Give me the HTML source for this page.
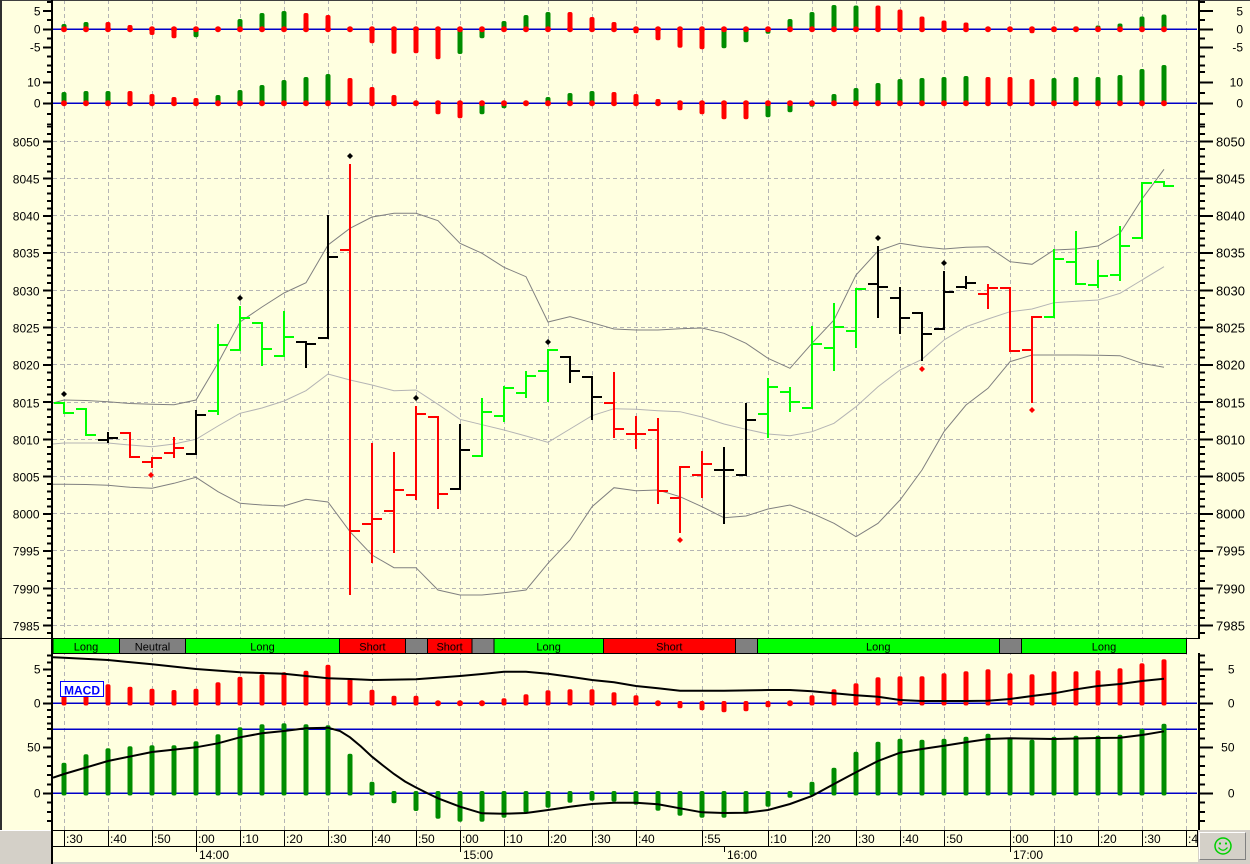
<!DOCTYPE html>
<html><head><meta charset="utf-8"><style>
html,body{margin:0;padding:0;background:#ffffe0;overflow:hidden;}
svg{display:block;}
text{font-family:"Liberation Sans",Arial,sans-serif;}
</style></head><body>
<svg xmlns="http://www.w3.org/2000/svg" width="1250" height="864" viewBox="0 0 1250 864">
<rect x="0" y="0" width="1250" height="864" fill="#ffffe0"/>

<!-- vertical dashed grid -->
<path d="M64.5 0V830M108.5 0V830M152.5 0V830M196.5 0V830M240.5 0V830M284.5 0V830M328.5 0V830M372.5 0V830M416.5 0V830M460.5 0V830M504.5 0V830M548.5 0V830M592.5 0V830M636.5 0V830M702.5 0V830M768.5 0V830M812.5 0V830M856.5 0V830M900.5 0V830M944.5 0V830M1010.5 0V830M1054.5 0V830M1098.5 0V830M1142.5 0V830M1186.5 0V830" stroke="#b4b4b4" stroke-width="1" stroke-dasharray="4 3" fill="none" shape-rendering="crispEdges"/>
<!-- horizontal dashed grid (price) -->
<path d="M53 141.5H1197M53 178.5H1197M53 215.5H1197M53 252.5H1197M53 290.5H1197M53 327.5H1197M53 364.5H1197M53 402.5H1197M53 439.5H1197M53 476.5H1197M53 513.5H1197M53 550.5H1197M53 588.5H1197M53 625.5H1197" stroke="#b4b4b4" stroke-width="1" stroke-dasharray="4 3" fill="none" shape-rendering="crispEdges"/>

<!-- blue zero lines -->
<g stroke="#0000c8" stroke-width="1.6" shape-rendering="crispEdges">
<line x1="53" y1="29.3" x2="1197" y2="29.3"/>
<line x1="53" y1="103.3" x2="1197" y2="103.3"/>
<line x1="53" y1="703.3" x2="1197" y2="703.3"/>
<line x1="53" y1="729.3" x2="1197" y2="729.3"/>
<line x1="53" y1="793.3" x2="1197" y2="793.3"/>
</g>

<!-- top panel upper histogram -->
<g fill="#008c00">
<rect x="61.5" y="24" width="5" height="5.3" rx="2"/>
<rect x="83.5" y="22" width="5" height="7.3" rx="2"/>
<rect x="193.5" y="29" width="5" height="8.3" rx="2"/>
<rect x="237.5" y="19" width="5" height="10.3" rx="2"/>
<rect x="259.5" y="13" width="5" height="16.3" rx="2"/>
<rect x="281.5" y="11" width="5" height="18.3" rx="2"/>
<rect x="457.5" y="29" width="5" height="25" rx="2"/>
<rect x="479.5" y="29" width="5" height="9.3" rx="2"/>
<rect x="501.5" y="21" width="5" height="8.3" rx="2"/>
<rect x="523.5" y="15" width="5" height="14.3" rx="2"/>
<rect x="545.5" y="12" width="5" height="17.3" rx="2"/>
<rect x="721.5" y="29" width="5" height="19.3" rx="2"/>
<rect x="743.5" y="29" width="5" height="13.3" rx="2"/>
<rect x="765.5" y="29" width="5" height="4.7" rx="2"/>
<rect x="787.5" y="19" width="5" height="10.3" rx="2"/>
<rect x="809.5" y="12" width="5" height="17.3" rx="2"/>
<rect x="831.5" y="5" width="5" height="24.3" rx="2"/>
<rect x="853.5" y="5.5" width="5" height="23.8" rx="2"/>
<rect x="1051.5" y="29" width="5" height="3" rx="2"/>
<rect x="1073.5" y="26.5" width="5" height="2.8" rx="2"/>
<rect x="1095.5" y="25.5" width="5" height="3.8" rx="2"/>
<rect x="1117.5" y="23.5" width="5" height="5.8" rx="2"/>
<rect x="1139.5" y="16.5" width="5" height="12.8" rx="2"/>
<rect x="1161.5" y="14.5" width="5" height="14.8" rx="2"/>
</g>
<g fill="#ff0000">
<rect x="105.5" y="22" width="5" height="7.3" rx="2"/>
<rect x="127.5" y="25" width="5" height="4.3" rx="2"/>
<rect x="149.5" y="29" width="5" height="6" rx="2"/>
<rect x="171.5" y="29" width="5" height="9.3" rx="2"/>
<rect x="303.5" y="13" width="5" height="16.3" rx="2"/>
<rect x="325.5" y="15" width="5" height="14.3" rx="2"/>
<rect x="369.5" y="29" width="5" height="14.3" rx="2"/>
<rect x="391.5" y="29" width="5" height="24.7" rx="2"/>
<rect x="413.5" y="29" width="5" height="24.3" rx="2"/>
<rect x="435.5" y="29" width="5" height="30.3" rx="2"/>
<rect x="567.5" y="12" width="5" height="17.3" rx="2"/>
<rect x="589.5" y="17" width="5" height="12.3" rx="2"/>
<rect x="611.5" y="22" width="5" height="7.3" rx="2"/>
<rect x="633.5" y="29" width="5" height="4.3" rx="2"/>
<rect x="655.5" y="29" width="5" height="11.3" rx="2"/>
<rect x="677.5" y="29" width="5" height="18.7" rx="2"/>
<rect x="699.5" y="29" width="5" height="20.3" rx="2"/>
<rect x="875.5" y="5.5" width="5" height="23.8" rx="2"/>
<rect x="897.5" y="9.5" width="5" height="19.8" rx="2"/>
<rect x="919.5" y="16.5" width="5" height="12.8" rx="2"/>
<rect x="941.5" y="20.5" width="5" height="8.8" rx="2"/>
<rect x="963.5" y="22.5" width="5" height="6.8" rx="2"/>
<rect x="1007.5" y="29" width="5" height="2.5" rx="2"/>
<rect x="1029.5" y="29" width="5" height="4.3" rx="2"/>
</g>
<!-- top panel lower histogram -->
<g fill="#008c00">
<rect x="61.5" y="92" width="5" height="11.3" rx="2"/>
<rect x="83.5" y="91" width="5" height="12.3" rx="2"/>
<rect x="105.5" y="91" width="5" height="12.3" rx="2"/>
<rect x="215.5" y="95" width="5" height="8.3" rx="2"/>
<rect x="237.5" y="90" width="5" height="13.3" rx="2"/>
<rect x="259.5" y="85" width="5" height="18.3" rx="2"/>
<rect x="281.5" y="80" width="5" height="23.3" rx="2"/>
<rect x="303.5" y="77" width="5" height="26.3" rx="2"/>
<rect x="325.5" y="74" width="5" height="29.3" rx="2"/>
<rect x="479.5" y="103" width="5" height="11.3" rx="2"/>
<rect x="501.5" y="103" width="5" height="5.3" rx="2"/>
<rect x="545.5" y="97" width="5" height="6.3" rx="2"/>
<rect x="567.5" y="93" width="5" height="10.3" rx="2"/>
<rect x="589.5" y="91" width="5" height="12.3" rx="2"/>
<rect x="765.5" y="103" width="5" height="14.3" rx="2"/>
<rect x="787.5" y="103" width="5" height="9.3" rx="2"/>
<rect x="809.5" y="103" width="5" height="3.7" rx="2"/>
<rect x="831.5" y="94" width="5" height="9.3" rx="2"/>
<rect x="853.5" y="88" width="5" height="15.3" rx="2"/>
<rect x="875.5" y="83" width="5" height="20.3" rx="2"/>
<rect x="897.5" y="79" width="5" height="24.3" rx="2"/>
<rect x="919.5" y="78" width="5" height="25.3" rx="2"/>
<rect x="941.5" y="77" width="5" height="26.3" rx="2"/>
<rect x="963.5" y="76" width="5" height="27.3" rx="2"/>
<rect x="1051.5" y="78" width="5" height="25.3" rx="2"/>
<rect x="1073.5" y="77" width="5" height="26.3" rx="2"/>
<rect x="1095.5" y="77" width="5" height="26.3" rx="2"/>
<rect x="1117.5" y="75" width="5" height="28.3" rx="2"/>
<rect x="1139.5" y="69" width="5" height="34.3" rx="2"/>
<rect x="1161.5" y="65" width="5" height="38.3" rx="2"/>
</g>
<g fill="#ff0000">
<rect x="127.5" y="91" width="5" height="12.3" rx="2"/>
<rect x="149.5" y="94" width="5" height="9.3" rx="2"/>
<rect x="171.5" y="97" width="5" height="6.3" rx="2"/>
<rect x="193.5" y="98" width="5" height="5.3" rx="2"/>
<rect x="347.5" y="78" width="5" height="25.3" rx="2"/>
<rect x="369.5" y="87" width="5" height="16.3" rx="2"/>
<rect x="391.5" y="95" width="5" height="8.3" rx="2"/>
<rect x="435.5" y="103" width="5" height="11.3" rx="2"/>
<rect x="457.5" y="103" width="5" height="15.3" rx="2"/>
<rect x="611.5" y="92" width="5" height="11.3" rx="2"/>
<rect x="633.5" y="94" width="5" height="9.3" rx="2"/>
<rect x="655.5" y="99" width="5" height="4.3" rx="2"/>
<rect x="677.5" y="103" width="5" height="7.3" rx="2"/>
<rect x="699.5" y="103" width="5" height="11.3" rx="2"/>
<rect x="721.5" y="103" width="5" height="16.3" rx="2"/>
<rect x="743.5" y="103" width="5" height="16.3" rx="2"/>
<rect x="985.5" y="77" width="5" height="26.3" rx="2"/>
<rect x="1007.5" y="77" width="5" height="26.3" rx="2"/>
<rect x="1029.5" y="79" width="5" height="24.3" rx="2"/>
</g>
<!-- red zero dots -->
<g fill="#ff0000">
<circle cx="64" cy="29.3" r="3"/><circle cx="86" cy="29.3" r="3"/><circle cx="108" cy="29.3" r="3"/><circle cx="130" cy="29.3" r="3"/><circle cx="152" cy="29.3" r="3"/><circle cx="174" cy="29.3" r="3"/><circle cx="196" cy="29.3" r="3"/><circle cx="218" cy="29.3" r="3"/><circle cx="240" cy="29.3" r="3"/><circle cx="262" cy="29.3" r="3"/><circle cx="284" cy="29.3" r="3"/><circle cx="306" cy="29.3" r="3"/><circle cx="328" cy="29.3" r="3"/><circle cx="350" cy="29.3" r="3"/><circle cx="372" cy="29.3" r="3"/><circle cx="394" cy="29.3" r="3"/><circle cx="416" cy="29.3" r="3"/><circle cx="438" cy="29.3" r="3"/><circle cx="460" cy="29.3" r="3"/><circle cx="482" cy="29.3" r="3"/><circle cx="504" cy="29.3" r="3"/><circle cx="526" cy="29.3" r="3"/><circle cx="548" cy="29.3" r="3"/><circle cx="570" cy="29.3" r="3"/><circle cx="592" cy="29.3" r="3"/><circle cx="614" cy="29.3" r="3"/><circle cx="636" cy="29.3" r="3"/><circle cx="658" cy="29.3" r="3"/><circle cx="680" cy="29.3" r="3"/><circle cx="702" cy="29.3" r="3"/><circle cx="724" cy="29.3" r="3"/><circle cx="746" cy="29.3" r="3"/><circle cx="768" cy="29.3" r="3"/><circle cx="790" cy="29.3" r="3"/><circle cx="812" cy="29.3" r="3"/><circle cx="834" cy="29.3" r="3"/><circle cx="856" cy="29.3" r="3"/><circle cx="878" cy="29.3" r="3"/><circle cx="900" cy="29.3" r="3"/><circle cx="922" cy="29.3" r="3"/><circle cx="944" cy="29.3" r="3"/><circle cx="966" cy="29.3" r="3"/><circle cx="988" cy="29.3" r="3"/><circle cx="1010" cy="29.3" r="3"/><circle cx="1032" cy="29.3" r="3"/><circle cx="1054" cy="29.3" r="3"/><circle cx="1076" cy="29.3" r="3"/><circle cx="1098" cy="29.3" r="3"/><circle cx="1120" cy="29.3" r="3"/><circle cx="1142" cy="29.3" r="3"/><circle cx="1164" cy="29.3" r="3"/>
<circle cx="64" cy="103.3" r="3"/><circle cx="86" cy="103.3" r="3"/><circle cx="108" cy="103.3" r="3"/><circle cx="130" cy="103.3" r="3"/><circle cx="152" cy="103.3" r="3"/><circle cx="174" cy="103.3" r="3"/><circle cx="196" cy="103.3" r="3"/><circle cx="218" cy="103.3" r="3"/><circle cx="240" cy="103.3" r="3"/><circle cx="262" cy="103.3" r="3"/><circle cx="284" cy="103.3" r="3"/><circle cx="306" cy="103.3" r="3"/><circle cx="328" cy="103.3" r="3"/><circle cx="350" cy="103.3" r="3"/><circle cx="372" cy="103.3" r="3"/><circle cx="394" cy="103.3" r="3"/><circle cx="416" cy="103.3" r="3"/><circle cx="438" cy="103.3" r="3"/><circle cx="460" cy="103.3" r="3"/><circle cx="482" cy="103.3" r="3"/><circle cx="504" cy="103.3" r="3"/><circle cx="526" cy="103.3" r="3"/><circle cx="548" cy="103.3" r="3"/><circle cx="570" cy="103.3" r="3"/><circle cx="592" cy="103.3" r="3"/><circle cx="614" cy="103.3" r="3"/><circle cx="636" cy="103.3" r="3"/><circle cx="658" cy="103.3" r="3"/><circle cx="680" cy="103.3" r="3"/><circle cx="702" cy="103.3" r="3"/><circle cx="724" cy="103.3" r="3"/><circle cx="746" cy="103.3" r="3"/><circle cx="768" cy="103.3" r="3"/><circle cx="790" cy="103.3" r="3"/><circle cx="812" cy="103.3" r="3"/><circle cx="834" cy="103.3" r="3"/><circle cx="856" cy="103.3" r="3"/><circle cx="878" cy="103.3" r="3"/><circle cx="900" cy="103.3" r="3"/><circle cx="922" cy="103.3" r="3"/><circle cx="944" cy="103.3" r="3"/><circle cx="966" cy="103.3" r="3"/><circle cx="988" cy="103.3" r="3"/><circle cx="1010" cy="103.3" r="3"/><circle cx="1032" cy="103.3" r="3"/><circle cx="1054" cy="103.3" r="3"/><circle cx="1076" cy="103.3" r="3"/><circle cx="1098" cy="103.3" r="3"/><circle cx="1120" cy="103.3" r="3"/><circle cx="1142" cy="103.3" r="3"/><circle cx="1164" cy="103.3" r="3"/>
</g>

<!-- Bollinger bands -->
<polyline fill="none" stroke="#808080" stroke-width="1" points="53,403 64,400 86,400.5 108,401.7 130,403.5 152,404.3 174,404.7 196,400 218,363 240,322 262,307 284,293 306,282.7 328,245 350,228.3 372,217 394,213.3 416,213.3 438,220.7 460,243.3 482,253.3 504,267.3 526,276.7 548,322 570,316.7 592,322.7 614,329 636,330 658,330 680,328.7 702,328 724,333.3 746,343.3 768,358.3 790,368.3 812,343.3 834,320 856,275 878,251 900,243.3 922,246.7 944,249 966,247.3 988,246.7 1010,261.7 1032,264.3 1054,250 1076,249 1098,246 1120,233.3 1142,199 1164,169.3"/>
<polyline fill="none" stroke="#b4b4b4" stroke-width="1" points="53,444 64,443 86,443 108,443 130,445 152,446.7 174,444 196,439.3 218,426 240,413.3 262,408 284,401 306,390.7 328,374 350,380 372,385 394,390.7 416,390 438,404.3 460,419.3 482,424.7 504,430 526,436 548,442.3 570,429 592,415.7 614,408.7 636,409.3 658,410.7 680,411.7 702,417 724,424 746,429.3 768,434 790,435.7 812,431.7 834,423.3 856,406.7 878,386.7 900,370 922,359.3 944,340 966,326.7 988,319 1010,311.7 1032,309 1054,302.7 1076,301.3 1098,300 1120,293.3 1142,280 1164,266.7"/>
<polyline fill="none" stroke="#808080" stroke-width="1" points="53,484.3 64,484.3 86,484.5 108,485.3 130,487.3 152,488.3 174,483.3 196,477.3 218,491.7 240,503.3 262,505 284,506 306,499.3 328,502 350,531.7 372,555 394,567.7 416,567.7 438,590 460,595 482,595 504,592.7 526,590 548,563.3 570,540 592,506.7 614,487.7 636,490.7 658,490 680,496.7 702,506.7 724,517.7 746,516 768,509 790,505 812,513.3 834,523.3 856,536.7 878,523.3 900,500 922,470 944,431.7 966,405 988,388.3 1010,361.7 1032,355 1054,355 1076,355 1098,355.3 1120,355.7 1142,363.3 1164,367.3"/>

<!-- price bars -->
<g fill="none" stroke-width="2" stroke-linecap="square">
<path stroke="#00ff00" d="M55 403H64M64 403V413M64 413H73M77 409H86M86 409V435M86 435H95M209 411H218M218 325V414M218 345H227M231 350H240M240 307V350M240 318H249M253 323H262M262 323V365M262 349H271M275 356H284M284 312V356M284 337H293M473 456H482M482 399V456M482 412H491M495 416H504M504 387V421M504 388H513M517 393H526M526 372V397M526 376H535M539 371H548M548 350V401M548 350H557M759 414H768M768 379V437M768 387H777M781 392H790M790 388V411M790 402H799M803 408H812M812 327V408M812 344H821M825 348H834M834 304V370M834 327H843M847 331H856M856 289V347M856 289H865M1045 317H1054M1054 250V317M1054 259H1063M1067 262H1076M1076 232V284M1076 284H1085M1089 285H1098M1098 261V287M1098 276H1107M1111 275H1120M1120 227V280M1120 246H1129M1133 238H1142M1142 183V238M1142 183H1151M1155 182H1164M1164 182V186M1164 186H1173"/>
<path stroke="#000000" d="M99 440H108M108 433V442M108 438H117M187 454H196M196 411V454M196 415H205M297 342H306M306 342V367M306 344H315M319 338H328M328 216V338M328 257H337M451 489H460M460 425V489M460 450H469M561 357H570M570 357V382M570 371H579M583 377H592M592 377V419M592 397H601M715 470H724M724 448V523M724 470H733M737 475H746M746 404V475M746 420H755M869 284H878M878 247V317M878 287H887M891 298H900M900 288V333M900 318H909M913 313H922M922 313V360M922 334H931M935 329H944M944 272V329M944 292H953M957 287H966M966 277V288M966 283H975"/>
<path stroke="#ff0000" d="M121 433H130M130 433V457M130 457H139M143 462H152M152 458V467M152 458H161M165 453H174M174 438V457M174 448H183M341 250H350M350 165V594M350 531H359M363 524H372M372 444V562M372 519H381M385 511H394M394 453V552M394 490H403M407 495H416M416 407V499M416 414H425M429 417H438M438 417V508M438 494H447M605 403H614M614 373V437M614 429H623M627 434H636M636 417V448M636 434H645M649 430H658M658 419V503M658 491H667M671 498H680M680 467V532M680 467H689M693 475H702M702 452V497M702 464H711M979 294H988M988 285V308M988 288H997M1001 288H1010M1010 288V351M1010 351H1019M1023 350H1032M1032 317V402M1032 317H1041"/>
</g>
<!-- diamonds -->
<path fill="#000" d="M64 391l3 3-3 3-3-3zM240 295l3 3-3 3-3-3zM350 153l3 3-3 3-3-3zM416 395l3 3-3 3-3-3zM548 339l3 3-3 3-3-3zM878 235l3 3-3 3-3-3zM944 260l3 3-3 3-3-3z"/>
<path fill="#ff0000" d="M151 472l3 3-3 3-3-3zM680 537l3 3-3 3-3-3zM922 366l3 3-3 3-3-3zM1032 407l3 3-3 3-3-3z"/>

<!-- MACD upper red bars -->
<g fill="#ff0000">
<rect x="61.5" y="686" width="5" height="19.5" rx="2"/>
<rect x="83.5" y="686" width="5" height="19.5" rx="2"/>
<rect x="105.5" y="684.3" width="5" height="21.2" rx="2"/>
<rect x="127.5" y="686.7" width="5" height="18.8" rx="2"/>
<rect x="149.5" y="688.7" width="5" height="16.8" rx="2"/>
<rect x="171.5" y="690" width="5" height="15.5" rx="2"/>
<rect x="193.5" y="688.7" width="5" height="16.8" rx="2"/>
<rect x="215.5" y="682.3" width="5" height="23.2" rx="2"/>
<rect x="237.5" y="676.7" width="5" height="28.8" rx="2"/>
<rect x="259.5" y="674.3" width="5" height="31.2" rx="2"/>
<rect x="281.5" y="672.3" width="5" height="33.2" rx="2"/>
<rect x="303.5" y="670.7" width="5" height="34.8" rx="2"/>
<rect x="325.5" y="664.7" width="5" height="40.8" rx="2"/>
<rect x="347.5" y="678.7" width="5" height="26.8" rx="2"/>
<rect x="369.5" y="689.7" width="5" height="15.8" rx="2"/>
<rect x="391.5" y="695.7" width="5" height="9.8" rx="2"/>
<rect x="413.5" y="695.7" width="5" height="9.8" rx="2"/>
<circle cx="438" cy="703.3" r="3"/><circle cx="460" cy="703.3" r="3"/><circle cx="482" cy="703.3" r="3"/>
<rect x="501.5" y="698.3" width="5" height="7.2" rx="2"/>
<rect x="523.5" y="694.3" width="5" height="11.2" rx="2"/>
<rect x="545.5" y="690.3" width="5" height="15.2" rx="2"/>
<rect x="567.5" y="689.3" width="5" height="16.2" rx="2"/>
<rect x="589.5" y="689.3" width="5" height="16.2" rx="2"/>
<rect x="611.5" y="692.3" width="5" height="13.2" rx="2"/>
<rect x="633.5" y="695.3" width="5" height="10.2" rx="2"/>
<circle cx="658" cy="703.3" r="3"/>
<rect x="677.5" y="701" width="5" height="7.3" rx="2"/>
<rect x="699.5" y="701" width="5" height="9.3" rx="2"/>
<rect x="721.5" y="701" width="5" height="11.3" rx="2"/>
<rect x="743.5" y="701" width="5" height="10.3" rx="2"/>
<rect x="765.5" y="701" width="5" height="6.3" rx="2"/>
<circle cx="790" cy="703.3" r="3"/>
<rect x="809.5" y="695.3" width="5" height="10.2" rx="2"/>
<rect x="831.5" y="689.3" width="5" height="16.2" rx="2"/>
<rect x="853.5" y="683.3" width="5" height="22.2" rx="2"/>
<rect x="875.5" y="677.3" width="5" height="28.2" rx="2"/>
<rect x="897.5" y="676.3" width="5" height="29.2" rx="2"/>
<rect x="919.5" y="676.3" width="5" height="29.2" rx="2"/>
<rect x="941.5" y="673.3" width="5" height="32.2" rx="2"/>
<rect x="963.5" y="671.3" width="5" height="34.2" rx="2"/>
<rect x="985.5" y="669.3" width="5" height="36.2" rx="2"/>
<rect x="1007.5" y="673.3" width="5" height="32.2" rx="2"/>
<rect x="1029.5" y="674.3" width="5" height="31.2" rx="2"/>
<rect x="1051.5" y="671.3" width="5" height="34.2" rx="2"/>
<rect x="1073.5" y="671.3" width="5" height="34.2" rx="2"/>
<rect x="1095.5" y="670.3" width="5" height="35.2" rx="2"/>
<rect x="1117.5" y="668.3" width="5" height="37.2" rx="2"/>
<rect x="1139.5" y="663.3" width="5" height="42.2" rx="2"/>
<rect x="1161.5" y="659.3" width="5" height="46.2" rx="2"/>
</g>
<!-- MACD lower green bars -->
<g fill="#008c00">
<rect x="61.5" y="762.7" width="5" height="32.8" rx="2"/>
<rect x="83.5" y="754.3" width="5" height="41.2" rx="2"/>
<rect x="105.5" y="748.3" width="5" height="47.2" rx="2"/>
<rect x="127.5" y="746.3" width="5" height="49.2" rx="2"/>
<rect x="149.5" y="745.3" width="5" height="50.2" rx="2"/>
<rect x="171.5" y="745.3" width="5" height="50.2" rx="2"/>
<rect x="193.5" y="741.3" width="5" height="54.2" rx="2"/>
<rect x="215.5" y="734.3" width="5" height="61.2" rx="2"/>
<rect x="237.5" y="727.3" width="5" height="68.2" rx="2"/>
<rect x="259.5" y="724.3" width="5" height="71.2" rx="2"/>
<rect x="281.5" y="723.3" width="5" height="72.2" rx="2"/>
<rect x="303.5" y="724.3" width="5" height="71.2" rx="2"/>
<rect x="325.5" y="725.3" width="5" height="70.2" rx="2"/>
<rect x="347.5" y="753.7" width="5" height="41.8" rx="2"/>
<rect x="369.5" y="781.7" width="5" height="13.8" rx="2"/>
<rect x="391.5" y="791" width="5" height="12.3" rx="2"/>
<rect x="413.5" y="791" width="5" height="20" rx="2"/>
<rect x="435.5" y="791" width="5" height="27.7" rx="2"/>
<rect x="457.5" y="791" width="5" height="30.7" rx="2"/>
<rect x="479.5" y="791" width="5" height="30.7" rx="2"/>
<rect x="501.5" y="791" width="5" height="26.7" rx="2"/>
<rect x="523.5" y="791" width="5" height="21.7" rx="2"/>
<rect x="545.5" y="791" width="5" height="16.7" rx="2"/>
<rect x="567.5" y="791" width="5" height="11.7" rx="2"/>
<rect x="589.5" y="791" width="5" height="9.7" rx="2"/>
<rect x="611.5" y="791" width="5" height="10.7" rx="2"/>
<rect x="633.5" y="791" width="5" height="13.7" rx="2"/>
<rect x="655.5" y="791" width="5" height="19.7" rx="2"/>
<rect x="677.5" y="791" width="5" height="24.7" rx="2"/>
<rect x="699.5" y="791" width="5" height="26.7" rx="2"/>
<rect x="721.5" y="791" width="5" height="26.7" rx="2"/>
<rect x="743.5" y="791" width="5" height="22.7" rx="2"/>
<rect x="765.5" y="791" width="5" height="15.7" rx="2"/>
<rect x="787.5" y="791" width="5" height="6.7" rx="2"/>
<rect x="809.5" y="781.7" width="5" height="13.8" rx="2"/>
<rect x="831.5" y="767.7" width="5" height="27.8" rx="2"/>
<rect x="853.5" y="751.7" width="5" height="43.8" rx="2"/>
<rect x="875.5" y="741.7" width="5" height="53.8" rx="2"/>
<rect x="897.5" y="738.7" width="5" height="56.8" rx="2"/>
<rect x="919.5" y="739.7" width="5" height="55.8" rx="2"/>
<rect x="941.5" y="738.7" width="5" height="56.8" rx="2"/>
<rect x="963.5" y="736.7" width="5" height="58.8" rx="2"/>
<rect x="985.5" y="733.7" width="5" height="61.8" rx="2"/>
<rect x="1007.5" y="737.7" width="5" height="57.8" rx="2"/>
<rect x="1029.5" y="739.7" width="5" height="55.8" rx="2"/>
<rect x="1051.5" y="736.7" width="5" height="58.8" rx="2"/>
<rect x="1073.5" y="735.7" width="5" height="59.8" rx="2"/>
<rect x="1095.5" y="735.7" width="5" height="59.8" rx="2"/>
<rect x="1117.5" y="734.7" width="5" height="60.8" rx="2"/>
<rect x="1139.5" y="728.7" width="5" height="66.8" rx="2"/>
<rect x="1161.5" y="723.7" width="5" height="71.8" rx="2"/>
</g>
<!-- MACD black lines -->
<polyline fill="none" stroke="#000" stroke-width="2" points="53,657.3 64,657.7 108,660 152,664.3 196,669 240,672.3 284,673.7 328,678.3 350,679 372,680 416,679.3 460,676 482,674 504,671.7 526,671.7 548,673.7 570,676.7 592,680 614,682.3 636,686 658,688.3 680,690.7 724,690.7 768,690 790,690 812,691.3 834,693.3 856,695.3 878,696.7 900,700 922,701 966,701 988,700.7 1010,699 1032,696 1054,693.3 1076,689.3 1098,686 1120,684 1142,681 1164,678.7"/>
<polyline fill="none" stroke="#000" stroke-width="2" points="53,777.7 64,774 108,761 152,752 196,747.3 218,743.3 240,737.3 262,733.3 284,731 306,728.3 328,727.7 340,731 350,737.3 361,746.5 372,756.7 383,765.5 394,774 405,781.5 416,787.5 427,793 438,798.3 460,806.7 482,813.3 504,813.7 526,813 548,810 570,806.7 592,804 614,802.7 636,802.7 658,804.3 680,808.3 702,812.3 724,813 746,812.7 768,810 790,804 812,796 834,784 856,772.3 878,761 900,752.7 922,749 944,745.7 966,742.3 988,739 1010,738.3 1054,739 1098,738 1120,737.7 1142,735 1164,731.3"/>

<!-- MACD label -->
<rect x="60.5" y="681.5" width="43" height="15" fill="#ffffff" stroke="#0000ff" stroke-width="1"/>
<text x="82" y="694.3" font-size="12" font-weight="bold" fill="#0000ff" text-anchor="middle">MACD</text>

<!-- status bar -->
<g shape-rendering="crispEdges" stroke="#000" stroke-width="1">
<rect x="53" y="638.5" width="66.3" height="15" fill="#00ff00"/>
<rect x="119.3" y="638.5" width="66.4" height="15" fill="#808080"/>
<rect x="185.7" y="638.5" width="153.6" height="15" fill="#00ff00"/>
<rect x="339.3" y="638.5" width="66.2" height="15" fill="#ff0000"/>
<rect x="405.5" y="638.5" width="21.8" height="15" fill="#808080"/>
<rect x="427.3" y="638.5" width="44.7" height="15" fill="#ff0000"/>
<rect x="472" y="638.5" width="22" height="15" fill="#808080"/>
<rect x="494" y="638.5" width="109.3" height="15" fill="#00ff00"/>
<rect x="603.3" y="638.5" width="132" height="15" fill="#ff0000"/>
<rect x="735.3" y="638.5" width="22" height="15" fill="#808080"/>
<rect x="757.3" y="638.5" width="242" height="15" fill="#00ff00"/>
<rect x="999.3" y="638.5" width="22.4" height="15" fill="#808080"/>
<rect x="1021.7" y="638.5" width="164.6" height="15" fill="#00ff00"/>
</g>
<g font-size="11" fill="#000" text-anchor="middle">
<text x="86" y="650.5">Long</text>
<text x="152.5" y="650.5">Neutral</text>
<text x="262.5" y="650.5">Long</text>
<text x="372.4" y="650.5">Short</text>
<text x="449.6" y="650.5">Short</text>
<text x="548.6" y="650.5">Long</text>
<text x="669.3" y="650.5">Short</text>
<text x="878.3" y="650.5">Long</text>
<text x="1104" y="650.5">Long</text>
</g>

<!-- frame lines -->
<g fill="#000" shape-rendering="crispEdges">
<rect x="0" y="0" width="1250" height="1" fill="#404040"/>
<rect x="0" y="0" width="2" height="830" fill="#303030"/>
<rect x="51" y="0" width="2" height="864"/>
<rect x="1198" y="0" width="2" height="638"/>
<rect x="1198" y="653" width="2" height="177"/>
<rect x="0" y="638" width="1200" height="1"/>
<rect x="52" y="830" width="1146" height="1"/>
<rect x="52" y="846" width="1146" height="1"/>
<rect x="1197" y="830" width="1" height="16"/>
</g>

<!-- axis ticks -->
<g stroke="#000" fill="none" shape-rendering="crispEdges">
<line x1="49.5" y1="125.6" x2="49.5" y2="636" stroke-width="5" stroke-dasharray="2 5.446"/>
<line x1="47.5" y1="140.5" x2="47.5" y2="627" stroke-width="9" stroke-dasharray="2 35.23"/>
<line x1="49.5" y1="1" x2="49.5" y2="67" stroke-width="5" stroke-dasharray="2 7.1"/>
<line x1="47.5" y1="10.1" x2="47.5" y2="49" stroke-width="9" stroke-dasharray="2 16.2"/>
<line x1="49.5" y1="70.8" x2="49.5" y2="125" stroke-width="5" stroke-dasharray="2 8.5"/>
<line x1="47.5" y1="81.3" x2="47.5" y2="105" stroke-width="9" stroke-dasharray="2 19"/>
<line x1="49.5" y1="654.7" x2="49.5" y2="725" stroke-width="5" stroke-dasharray="2 4.8"/>
<line x1="47.5" y1="668.3" x2="47.5" y2="705" stroke-width="9" stroke-dasharray="2 32"/>
<line x1="49.5" y1="728.1" x2="49.5" y2="823" stroke-width="5" stroke-dasharray="2 7.2"/>
<line x1="47.5" y1="746.3" x2="47.5" y2="795" stroke-width="9" stroke-dasharray="2 44"/>
<line x1="1202" y1="125.6" x2="1202" y2="636" stroke-width="6" stroke-dasharray="2 5.446"/>
<line x1="1206" y1="140.5" x2="1206" y2="627" stroke-width="14" stroke-dasharray="2 35.23"/>
<line x1="1202" y1="1" x2="1202" y2="67" stroke-width="6" stroke-dasharray="2 7.1"/>
<line x1="1206" y1="10.1" x2="1206" y2="49" stroke-width="14" stroke-dasharray="2 16.2"/>
<line x1="1202" y1="70.8" x2="1202" y2="125" stroke-width="6" stroke-dasharray="2 8.5"/>
<line x1="1206" y1="81.3" x2="1206" y2="105" stroke-width="14" stroke-dasharray="2 19"/>
<line x1="1202" y1="654.7" x2="1202" y2="725" stroke-width="6" stroke-dasharray="2 4.8"/>
<line x1="1206" y1="668.3" x2="1206" y2="705" stroke-width="14" stroke-dasharray="2 32"/>
<line x1="1202" y1="728.1" x2="1202" y2="823" stroke-width="6" stroke-dasharray="2 7.2"/>
<line x1="1206" y1="746.3" x2="1206" y2="795" stroke-width="14" stroke-dasharray="2 44"/>
</g>

<!-- left labels -->
<g font-size="12" fill="#000" text-anchor="end">
<text x="39.5" y="146.5">8050</text>
<text x="39.5" y="183.5">8045</text>
<text x="39.5" y="220.5">8040</text>
<text x="39.5" y="257.5">8035</text>
<text x="39.5" y="295.5">8030</text>
<text x="39.5" y="332.5">8025</text>
<text x="39.5" y="369.5">8020</text>
<text x="39.5" y="407.5">8015</text>
<text x="39.5" y="444.5">8010</text>
<text x="39.5" y="481.5">8005</text>
<text x="39.5" y="518.5">8000</text>
<text x="39.5" y="555.5">7995</text>
<text x="39.5" y="593.5">7990</text>
<text x="39.5" y="630.5">7985</text>
<text x="40.5" y="15.3">5</text>
<text x="40.5" y="33.5">0</text>
<text x="40.5" y="51.7">-5</text>
<text x="40.5" y="86.5">10</text>
<text x="40.5" y="107.5">0</text>
<text x="40.5" y="673.6">5</text>
<text x="40.5" y="707.6">0</text>
<text x="40.5" y="751.6">50</text>
<text x="40.5" y="797.6">0</text>
</g>
<!-- right labels -->
<g font-size="13" fill="#000">
<text x="1216" y="146.5">8050</text>
<text x="1216" y="183.5">8045</text>
<text x="1216" y="220.5">8040</text>
<text x="1216" y="257.5">8035</text>
<text x="1216" y="295.5">8030</text>
<text x="1216" y="332.5">8025</text>
<text x="1216" y="369.5">8020</text>
<text x="1216" y="407.5">8015</text>
<text x="1216" y="444.5">8010</text>
<text x="1216" y="481.5">8005</text>
<text x="1216" y="518.5">8000</text>
<text x="1216" y="555.5">7995</text>
<text x="1216" y="593.5">7990</text>
<text x="1216" y="630.5">7985</text>
</g>
<g font-size="12" fill="#000" text-anchor="end">
<text x="1243" y="15.3">5</text>
<text x="1243" y="33.5">0</text>
<text x="1243" y="51.7">-5</text>
<text x="1243" y="86.5">10</text>
<text x="1243" y="107.5">0</text>
<text x="1234.5" y="673.6">5</text>
<text x="1234.5" y="707.6">0</text>
<text x="1234.5" y="751.6">50</text>
<text x="1234.5" y="797.6">0</text>
</g>

<!-- time axis -->
<path d="M64.5 830V846M108.5 830V846M152.5 830V846M196.5 830V846M240.5 830V846M284.5 830V846M328.5 830V846M372.5 830V846M416.5 830V846M460.5 830V846M504.5 830V846M548.5 830V846M592.5 830V846M636.5 830V846M702.5 830V846M768.5 830V846M812.5 830V846M856.5 830V846M900.5 830V846M944.5 830V846M1010.5 830V846M1054.5 830V846M1098.5 830V846M1142.5 830V846M1186.5 830V846M196.5 846V852M460.5 846V852M724.5 846V852M1010.5 846V852" stroke="#000" stroke-width="1" fill="none" shape-rendering="crispEdges"/>
<defs><clipPath id="tc"><rect x="53" y="830" width="1144" height="34"/></clipPath></defs>
<g font-size="12" fill="#000" clip-path="url(#tc)">
<text x="66" y="843">:30</text><text x="110" y="843">:40</text><text x="154" y="843">:50</text><text x="198" y="843">:00</text><text x="242" y="843">:10</text><text x="286" y="843">:20</text><text x="330" y="843">:30</text><text x="374" y="843">:40</text><text x="418" y="843">:50</text><text x="462" y="843">:00</text><text x="506" y="843">:10</text><text x="550" y="843">:20</text><text x="594" y="843">:30</text><text x="638" y="843">:40</text><text x="704" y="843">:55</text><text x="770" y="843">:10</text><text x="814" y="843">:20</text><text x="858" y="843">:30</text><text x="902" y="843">:40</text><text x="946" y="843">:50</text><text x="1012" y="843">:00</text><text x="1056" y="843">:10</text><text x="1100" y="843">:20</text><text x="1144" y="843">:30</text><text x="1188" y="843">:40</text>
<text x="199" y="859">14:00</text><text x="463" y="859">15:00</text><text x="727" y="859">16:00</text><text x="1013" y="859">17:00</text>
</g>

<!-- bottom gray boxes -->
<rect x="0" y="830" width="51" height="34" fill="#d4d0c8"/>
<rect x="0" y="830" width="51" height="1" fill="#ffffff"/>
<rect x="53" y="862" width="1145" height="2" fill="#d4d0c8"/>
<rect x="1198" y="830" width="52" height="34" fill="#d4d0c8"/>
<rect x="1199.5" y="832.5" width="46" height="27" fill="#d4d0c8" stroke="#ffffff" stroke-width="1"/>
<path d="M1245.5 832.5V859.5H1199.5" stroke="#808080" stroke-width="1" fill="none"/>
<circle cx="1223" cy="846" r="8" fill="none" stroke="#00d000" stroke-width="1.5"/>
<circle cx="1220" cy="843.5" r="1.1" fill="#00d000"/>
<circle cx="1226" cy="843.5" r="1.1" fill="#00d000"/>
<path d="M1218.5 847.5Q1223 853 1227.5 847.5" fill="none" stroke="#00d000" stroke-width="1.3"/>
</svg>
</body></html>
